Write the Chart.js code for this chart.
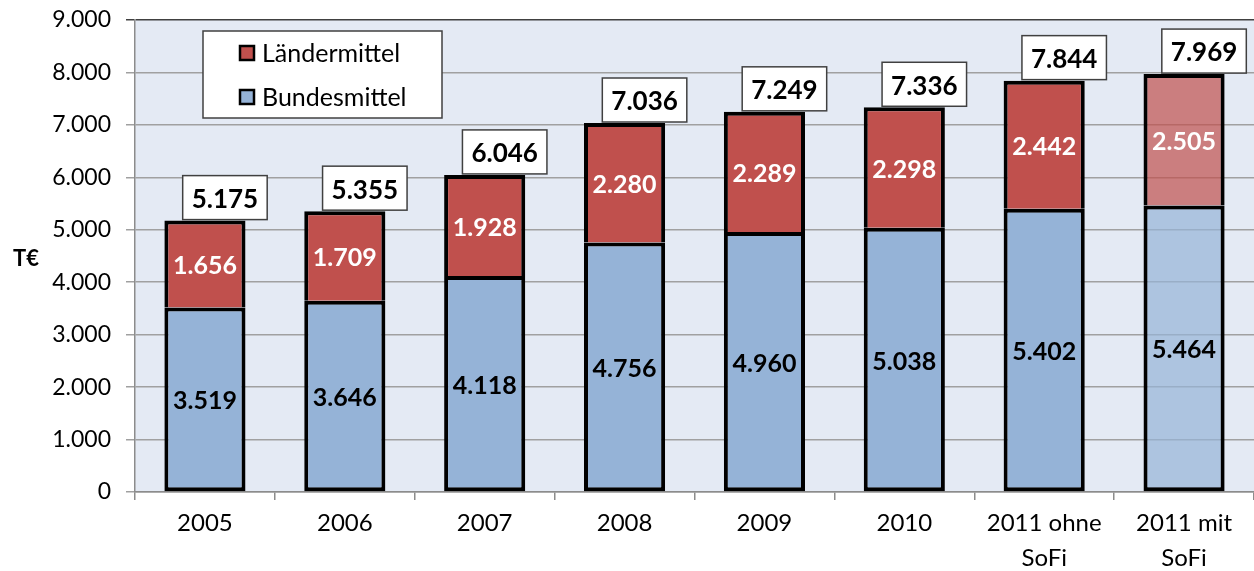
<!DOCTYPE html>
<html>
<head>
<meta charset="utf-8">
<script src="https://cdn.jsdelivr.net/npm/chart.js@4"></script>
<style>
  html, body { margin: 0; padding: 0; background: #fff; }
  #wrap { width: 1254px; height: 571px; }
</style>
</head>
<body>
<div id="wrap"><canvas id="c" width="1254" height="571"></canvas></div>
<script>
const categories = ['2005', '2006', '2007', '2008', '2009', '2010', ['2011 ohne', 'SoFi'], ['2011 mit', 'SoFi']];
const bundesmittel = [3519, 3646, 4118, 4756, 4960, 5038, 5402, 5464];
const laendermittel = [1656, 1709, 1928, 2280, 2289, 2298, 2442, 2505];
const totals = [5175, 5355, 6046, 7036, 7249, 7336, 7844, 7969];
const yTicks = [0, 1000, 2000, 3000, 4000, 5000, 6000, 7000, 8000, 9000];

const FONT = 'Lato, "Open Sans", sans-serif';

// dot as thousands separator, like 9.000
const fmt = v => String(v).replace(/\B(?=(\d{3})+(?!\d))/g, '.');

// the last bar ("mit SoFi") is drawn semi-transparent
const blueCols = bundesmittel.map((v, i) => i === bundesmittel.length - 1 ? 'rgba(149,179,215,0.7)' : '#95B3D7');
const redCols = laendermittel.map((v, i) => i === laendermittel.length - 1 ? 'rgba(192,80,77,0.7)' : '#C0504D');

const plotBg = {
  id: 'plotBg',
  beforeDraw(chart) {
    const { ctx, chartArea: a } = chart;
    ctx.save();
    ctx.fillStyle = '#E4EAF4';
    ctx.fillRect(a.left, a.top, a.right - a.left, a.bottom - a.top);
    ctx.restore();
  }
};

const labels = {
  id: 'labels',
  afterDatasetsDraw(chart) {
    const { ctx } = chart;
    const blue = chart.getDatasetMeta(0).data;
    const red = chart.getDatasetMeta(1).data;
    ctx.save();
    ctx.textAlign = 'center';
    ctx.textBaseline = 'middle';

    // segment values
    ctx.font = 'bold 25px ' + FONT;
    blue.forEach((b, i) => {
      ctx.fillStyle = '#000';
      ctx.fillText(fmt(bundesmittel[i]), b.x, (b.y + b.base) / 2 + 2);
    });
    red.forEach((b, i) => {
      ctx.fillStyle = '#fff';
      ctx.fillText(fmt(laendermittel[i]), b.x, (b.y + b.base) / 2 + 2);
    });

    // totals in white boxes, a bit to the right of the bar
    ctx.font = 'bold 26px ' + FONT;
    red.forEach((b, i) => {
      const txt = fmt(totals[i]);
      const w = ctx.measureText(txt).width + 18;
      const h = 44;
      const cx = b.x + 20;
      const bottom = b.y - 1;
      ctx.fillStyle = '#fff';
      ctx.fillRect(cx - w / 2, bottom - h, w, h);
      ctx.strokeStyle = '#404040';
      ctx.lineWidth = 1.5;
      ctx.strokeRect(cx - w / 2, bottom - h, w, h);
      ctx.fillStyle = '#000';
      ctx.fillText(txt, cx, bottom - h / 2 + 2);
    });

    // legend box inside the plot
    const lx = 203, ly = 31, lw = 239, lh = 87;
    ctx.fillStyle = '#fff';
    ctx.fillRect(lx, ly, lw, lh);
    ctx.strokeStyle = '#404040';
    ctx.lineWidth = 1.5;
    ctx.strokeRect(lx, ly, lw, lh);
    ctx.font = '25px ' + FONT;
    ctx.textAlign = 'left';
    const items = [chart.data.datasets[1], chart.data.datasets[0]];
    items.forEach((ds, k) => {
      const yc = ly + 22 + k * 44;
      ctx.fillStyle = ds.backgroundColor[0];
      ctx.fillRect(240, yc - 7, 14, 14);
      ctx.strokeStyle = '#000';
      ctx.lineWidth = 2.5;
      ctx.strokeRect(240, yc - 7, 14, 14);
      ctx.fillStyle = '#000';
      ctx.fillText(ds.label, 262, yc + 1);
    });

    // axis title
    ctx.font = 'bold 22px ' + FONT;
    ctx.textAlign = 'center';
    ctx.fillText('T€', 26, 259);
    ctx.restore();
  }
};

new Chart(document.getElementById('c'), {
  type: 'bar',
  data: {
    labels: categories,
    datasets: [
      {
        label: 'Bundesmittel',
        data: bundesmittel,
        backgroundColor: blueCols,
        borderColor: '#000',
        borderWidth: 4,
        borderSkipped: false,
        barPercentage: 0.58,
        categoryPercentage: 1
      },
      {
        label: 'Ländermittel',
        data: laendermittel,
        backgroundColor: redCols,
        borderColor: '#000',
        borderWidth: 4,
        borderSkipped: 'bottom',
        barPercentage: 0.58,
        categoryPercentage: 1
      }
    ]
  },
  options: {
    responsive: false,
    animation: false,
    layout: { padding: { top: 20, right: 0, left: 0, bottom: 0 } },
    plugins: { legend: { display: false }, tooltip: { enabled: false } },
    scales: {
      x: {
        stacked: true,
        afterFit(s) { s.height = 79; s.paddingLeft = 0; s.paddingRight = 0; },
        grid: { drawOnChartArea: false, drawTicks: true, tickLength: 8, color: '#8C8C8C', lineWidth: 1.5 },
        border: { color: '#8C8C8C', width: 1.5 },
        ticks: { color: '#000', font: { family: FONT, size: 24, lineHeight: 1.45 }, padding: 6, maxRotation: 0, autoSkip: false }
      },
      y: {
        stacked: true,
        min: 0,
        max: 9000,
        afterFit(s) { s.width = 135; s.paddingTop = 0; s.paddingBottom = 0; },
        afterBuildTicks(s) { s.ticks = yTicks.map(v => ({ value: v })); },
        grid: {
          color: c => c.tick && c.tick.value === 9000 ? '#404040' : '#A0A0A0',
          lineWidth: 1.5,
          tickLength: 9
        },
        border: { color: '#8C8C8C', width: 1.5 },
        ticks: { color: '#000', font: { family: FONT, size: 23 }, padding: 15, callback: v => fmt(v) }
      }
    }
  },
  plugins: [plotBg, labels]
});
</script>
</body>
</html>
